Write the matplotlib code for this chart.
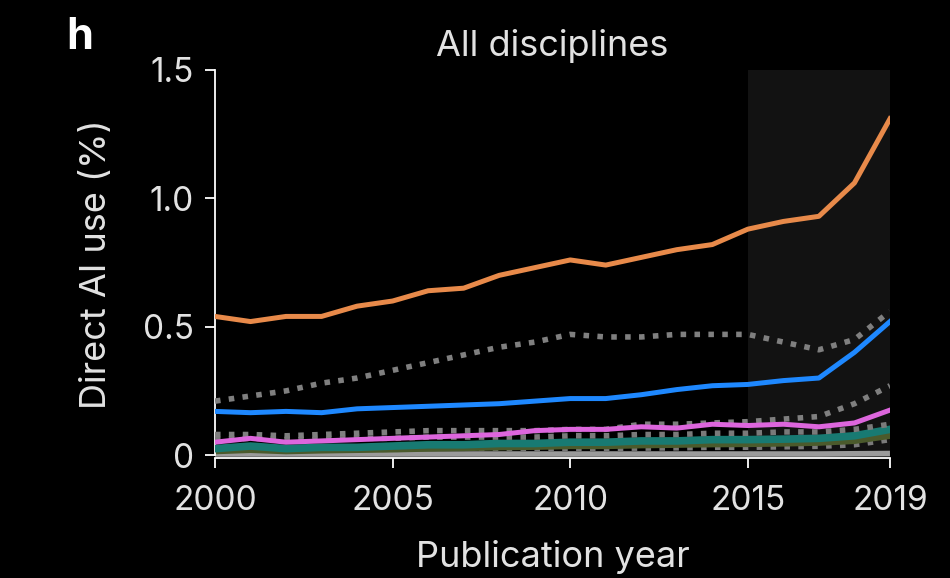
import numpy as np
import matplotlib
matplotlib.use("Agg")
import matplotlib.pyplot as plt

plt.rcParams['font.family'] = ['Inter', 'DejaVu Sans']

# anios de publicacion
years = np.arange(2000, 2020)

# series solidas (uso directo de IA, %)
orange = [0.54, 0.52, 0.54, 0.54, 0.58, 0.60, 0.64, 0.65, 0.70, 0.73,
          0.76, 0.74, 0.77, 0.80, 0.82, 0.88, 0.91, 0.93, 1.06, 1.31]
blue = [0.17, 0.165, 0.17, 0.165, 0.18, 0.185, 0.19, 0.195, 0.20, 0.21,
        0.22, 0.22, 0.235, 0.255, 0.27, 0.275, 0.29, 0.30, 0.40, 0.52]
magenta = [0.05, 0.065, 0.05, 0.055, 0.06, 0.065, 0.07, 0.075, 0.08, 0.095,
           0.10, 0.10, 0.11, 0.105, 0.12, 0.115, 0.12, 0.11, 0.125, 0.175]
teal = [0.025, 0.035, 0.025, 0.03, 0.03, 0.035, 0.04, 0.04, 0.045, 0.045,
        0.05, 0.05, 0.055, 0.055, 0.06, 0.06, 0.062, 0.065, 0.075, 0.10]
olive = [0.015, 0.02, 0.015, 0.018, 0.02, 0.022, 0.025, 0.027, 0.03, 0.032,
         0.035, 0.035, 0.038, 0.04, 0.042, 0.043, 0.045, 0.048, 0.055, 0.075]
base = [0.004, 0.004, 0.004, 0.004, 0.004, 0.004, 0.004, 0.004, 0.004, 0.004,
        0.004, 0.004, 0.004, 0.004, 0.004, 0.004, 0.004, 0.004, 0.005, 0.006]

# series punteadas (grises)
dot_top = [0.21, 0.23, 0.25, 0.28, 0.30, 0.33, 0.36, 0.39, 0.42, 0.44,
           0.47, 0.46, 0.46, 0.47, 0.47, 0.47, 0.44, 0.41, 0.45, 0.56]
dot_mid = [0.08, 0.08, 0.075, 0.08, 0.085, 0.09, 0.095, 0.095, 0.095, 0.095,
           0.10, 0.10, 0.12, 0.12, 0.125, 0.13, 0.14, 0.15, 0.20, 0.27]
dot_low = [0.06, 0.065, 0.06, 0.06, 0.065, 0.065, 0.07, 0.07, 0.07, 0.07,
           0.075, 0.075, 0.08, 0.08, 0.085, 0.085, 0.09, 0.09, 0.10, 0.12]
dot_base = [0.02, 0.022, 0.02, 0.02, 0.022, 0.022, 0.024, 0.024, 0.025, 0.025,
            0.026, 0.026, 0.027, 0.028, 0.03, 0.03, 0.032, 0.034, 0.04, 0.06]

fig = plt.figure(figsize=(9.5, 5.78), dpi=100, facecolor='black')
ax = fig.add_axes([0.2263, 0.2083, 0.7105, 0.6706], facecolor='black')

# zona sombreada 2015-2019
ax.axvspan(2015, 2019, ymin=0, ymax=1, color='#121212', zorder=0, lw=0)

dots = (0, (1.0, 1.5))
ax.plot(years, base, color='#9a9a9a', lw=4, zorder=1, solid_capstyle='butt')
ax.plot(years, dot_base, color='#7a7a7a', lw=4, ls=dots, zorder=2)
ax.plot(years, olive, color='#4b5a2c', lw=4.5, zorder=2)
ax.plot(years, teal, color='#187a72', lw=5.5, zorder=3)
ax.plot(years, dot_low, color='#7a7a7a', lw=4, ls=dots, zorder=3)
ax.plot(years, dot_mid, color='#7f7f7f', lw=4, ls=dots, zorder=3)
ax.plot(years, dot_top, color='#7f7f7f', lw=4, ls=dots, zorder=3)
ax.plot(years, magenta, color='#dd66dd', lw=3.6, zorder=4)
ax.plot(years, blue, color='#1e88ff', lw=3.6, zorder=4)
ax.plot(years, orange, color='#e88a4a', lw=3.6, zorder=4)

ax.set_xlim(2000, 2019)
ax.set_ylim(-0.01, 1.5)

for s in ['top', 'right']:
    ax.spines[s].set_visible(False)
ax.spines['left'].set_bounds(0, 1.5)
ax.spines['bottom'].set_bounds(2000, 2019)
for s in ['left', 'bottom']:
    ax.spines[s].set_color('white')
    ax.spines[s].set_linewidth(1.3)

ax.set_xticks([2000, 2005, 2010, 2015, 2019])
ax.set_xticklabels(['2000', '2005', '2010', '2015', '2019'])
ax.set_yticks([0, 0.5, 1.0, 1.5])
ax.set_yticklabels(['0', '0.5', '1.0', '1.5'])
ax.tick_params(colors='white', labelcolor='#e2e2e2', labelsize=24,
               length=7, width=1.3, direction='out', pad=8)
ax.tick_params(axis='x', pad=13)

ax.set_xlabel("Publication year", color='#e2e2e2', fontsize=26, labelpad=16)
ax.set_ylabel("Direct AI use (%)", color='#e2e2e2', fontsize=26, labelpad=22)
ax.set_title("All disciplines", color='#e2e2e2', fontsize=26, pad=10)

fig.text(0.07, 0.915, "h", color='white', fontsize=31, fontweight='bold')

plt.savefig("out.png", dpi=100, facecolor='black')
